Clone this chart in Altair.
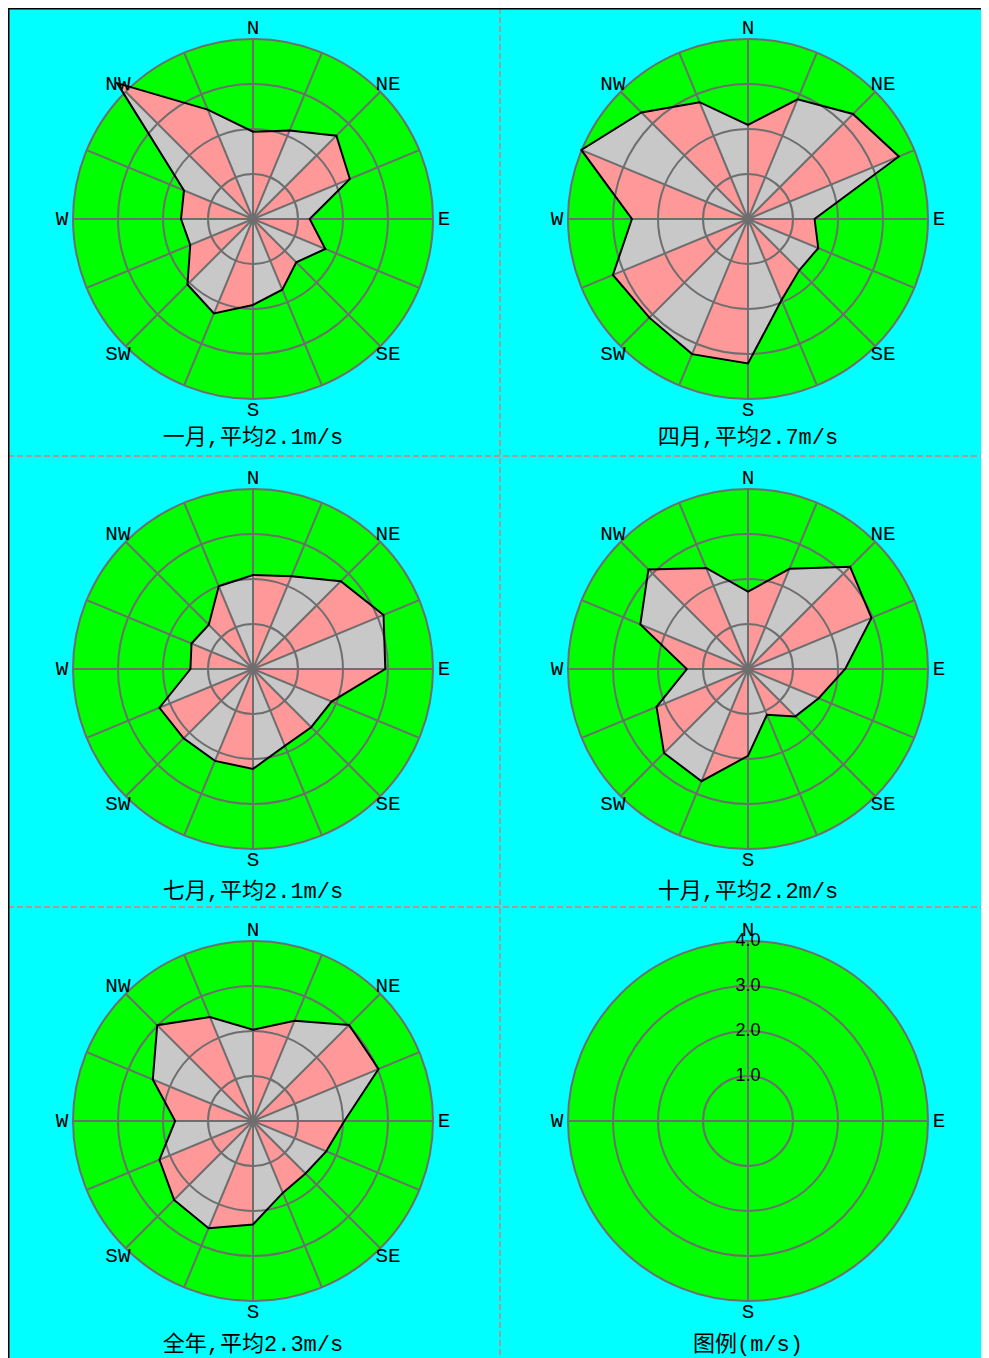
import altair as alt
import pandas as pd

# ---------------- data ----------------
DIRS = ["N", "NNE", "NE", "ENE", "E", "ESE", "SE", "SSE",
        "S", "SSW", "SW", "WSW", "W", "WNW", "NW", "NNW"]
JAN = [1.94, 2.13, 2.62, 2.33, 1.26, 1.74, 1.36, 1.70, 1.91, 2.27, 2.06, 1.51, 1.60, 1.66, 4.27, 2.63]
APR = [2.09, 2.88, 3.30, 3.63, 1.48, 1.69, 1.61, 1.95, 3.21, 3.25, 3.10, 3.25, 2.58, 4.01, 3.35, 2.81]
JUL = [2.09, 2.23, 2.76, 3.14, 2.94, 1.89, 1.83, 1.85, 2.22, 2.21, 2.18, 2.25, 1.39, 1.48, 1.39, 1.99]
OCT = [1.72, 2.41, 3.21, 2.97, 2.16, 1.70, 1.49, 1.10, 1.93, 2.70, 2.64, 2.20, 1.36, 2.59, 3.13, 2.43]
YEAR = [2.03, 2.41, 3.02, 3.02, 2.03, 1.76, 1.65, 1.73, 2.30, 2.58, 2.48, 2.25, 1.73, 2.41, 3.01, 2.50]
TITLES = ["一月,平均2.1m/s", "四月,平均2.7m/s", "七月,平均2.1m/s",
          "十月,平均2.2m/s", "全年,平均2.3m/s", "图例(m/s)"]
RINGS = [1.0, 2.0, 3.0, 4.0]
RING_LABELS = ["1.0", "2.0", "3.0", "4.0"]
MAIN_DIRS = ["N", "NE", "E", "SE", "S", "SW", "W", "NW"]
CROSS_DIRS = ["N", "E", "S", "W"]
SERIES = [JAN, APR, JUL, OCT, YEAR]

# ---------------- style / layout ----------------
PX = 45.0                 # pixels per m/s
LABEL_R = 191 / PX        # radius of compass labels
GREEN = "#00FF00"
CYAN = "#00FFFF"
PINK = "#FF9999"
GRAY = "#C8C8C8"
GRID = "#6E6E6E"
DIV = "#A89A9A"
LATIN_FONT = "Liberation Mono, 'Noto Sans CJK SC'"

TOTAL_W, TOTAL_H = 973, 1350
COL_LEFT = [0, 492]
COL_CX = [245, 248]
ROW_TOP = [0, 448, 899]
ROW_CY = [211, 213, 214]
ROW_TITLE = [218, 222, 223]


def center(p):
    r, c = divmod(p, 2)
    return (COL_LEFT[c] + COL_CX[c]) / PX, -(ROW_TOP[r] + ROW_CY[r]) / PX


# ---------------- tables ----------------
disk_rows, ring_rows, spoke_rows, lab_rows, title_rows = [], [], [], [], []
wedge_rows, line_rows, ringlab_rows = [], [], []
for p in range(6):
    ox, oy = center(p)
    legend = p == 5
    disk_rows.append(dict(p=p, ox=ox, oy=oy, r=RINGS[-1]))
    for rv in RINGS:
        ring_rows.append(dict(p=p, ox=ox, oy=oy, r=rv))
    sp = [DIRS.index(d) for d in CROSS_DIRS] if legend else range(len(DIRS))
    for d in sp:
        spoke_rows.append(dict(p=p, ox=ox, oy=oy, d=d, v=RINGS[-1]))
    for name in (CROSS_DIRS if legend else MAIN_DIRS):
        lab_rows.append(dict(p=p, ox=ox, oy=oy, d=DIRS.index(name), v=LABEL_R, t=name))
    title_rows.append(dict(p=p, ox=ox, oy=oy, d=8, v=ROW_TITLE[p // 2] / PX, t=TITLES[p]))
    if legend:
        for rv, t in zip(RINGS, RING_LABELS):
            ringlab_rows.append(dict(p=p, ox=ox, oy=oy, d=0, v=rv, t=t))
        continue
    vals = SERIES[p]
    n = len(vals)
    for i in range(n):
        j = (i + 1) % n
        par = "a" if i % 2 == 0 else "b"
        w = p * 100 + i
        wedge_rows.append(dict(p=p, ox=ox, oy=oy, w=w, k=0, d=i, v=0.0, c=par))
        wedge_rows.append(dict(p=p, ox=ox, oy=oy, w=w, k=1, d=i, v=vals[i], c=par))
        wedge_rows.append(dict(p=p, ox=ox, oy=oy, w=w, k=2, d=j, v=vals[j], c=par))
        line_rows.append(dict(p=p, ox=ox, oy=oy, d=i, v=vals[i]))

xs = alt.Scale(domain=[0, TOTAL_W / PX], nice=False, zero=False)
ys = alt.Scale(domain=[-TOTAL_H / PX, 0], nice=False, zero=False)
rs = alt.Scale(type="linear", domain=[0, RINGS[-1]], range=[0, RINGS[-1] * PX], zero=True)

polar = dict(px="datum.ox + datum.v*sin(datum.d*PI/8)",
             py="datum.oy + datum.v*cos(datum.d*PI/8)")
X = alt.X("px:Q", scale=xs, axis=None)
Y = alt.Y("py:Q", scale=ys, axis=None)
XC = alt.X("ox:Q", scale=xs, axis=None)
YC = alt.Y("oy:Q", scale=ys, axis=None)
R = alt.Radius("r:Q", scale=rs, stack=None)

disk = alt.Chart(pd.DataFrame(disk_rows)).mark_arc(
    color=GREEN, theta=0, theta2=6.2832
).encode(x=XC, y=YC, radius=R)

wedges = alt.Chart(pd.DataFrame(wedge_rows)).mark_line(
    interpolate="linear-closed", filled=True
).transform_calculate(**polar).encode(
    x=X, y=Y, order="k:Q", detail="w:N",
    color=alt.Color("c:N", scale=alt.Scale(domain=["a", "b"], range=[PINK, GRAY]), legend=None))

rings = alt.Chart(pd.DataFrame(ring_rows)).mark_arc(
    filled=False, color=GRID, strokeWidth=2, theta=0, theta2=6.2832
).encode(x=XC, y=YC, radius=R)

spokes = alt.Chart(pd.DataFrame(spoke_rows)).mark_rule(
    color=GRID, strokeWidth=2
).transform_calculate(**polar).encode(x=XC, y=YC, x2="px:Q", y2="py:Q")

outline = alt.Chart(pd.DataFrame(line_rows)).mark_line(
    interpolate="linear-closed", color="black", strokeWidth=2
).transform_calculate(**polar).encode(x=X, y=Y, order="d:Q", detail="p:N")

labels = alt.Chart(pd.DataFrame(lab_rows)).mark_text(
    font=LATIN_FONT, fontSize=21, color="black", align="center", baseline="middle"
).transform_calculate(**polar).encode(x=X, y=Y, text="t:N")

ringlabels = alt.Chart(pd.DataFrame(ringlab_rows)).mark_text(
    font="Liberation Sans", fontSize=18, color="black", align="center", baseline="middle"
).transform_calculate(**polar).encode(x=X, y=Y, text="t:N")

titles = alt.Chart(pd.DataFrame(title_rows)).mark_text(
    font=LATIN_FONT, fontSize=22, color="black", align="center", baseline="middle"
).transform_calculate(**polar).encode(x=X, y=Y, text="t:N")

dummy = pd.DataFrame({"a": [0]})
vdiv = alt.Chart(dummy).mark_rule(color=DIV, strokeWidth=2, strokeDash=[6, 3]).encode(
    x=alt.value(COL_LEFT[1]), y=alt.value(0), y2=alt.value(TOTAL_H))
hdiv1 = alt.Chart(dummy).mark_rule(color=DIV, strokeWidth=2, strokeDash=[6, 3]).encode(
    x=alt.value(0), x2=alt.value(TOTAL_W), y=alt.value(ROW_TOP[1]))
hdiv2 = alt.Chart(dummy).mark_rule(color=DIV, strokeWidth=2, strokeDash=[6, 3]).encode(
    x=alt.value(0), x2=alt.value(TOTAL_W), y=alt.value(ROW_TOP[2]))
lborder = alt.Chart(dummy).mark_rule(color="black", strokeWidth=2).encode(
    x=alt.value(0.5), y=alt.value(0), y2=alt.value(TOTAL_H))
tborder = alt.Chart(dummy).mark_rule(color="black", strokeWidth=2).encode(
    x=alt.value(0), x2=alt.value(TOTAL_W), y=alt.value(0.5))

chart = alt.layer(
    disk, wedges, rings, spokes, outline, labels, ringlabels, titles,
    vdiv, hdiv1, hdiv2, lborder, tborder
).properties(
    width=TOTAL_W, height=TOTAL_H, background=CYAN, padding=0, autosize="none"
).configure_view(strokeWidth=0)

chart.save("out.html", embed_options={"renderer": "svg", "actions": False})
